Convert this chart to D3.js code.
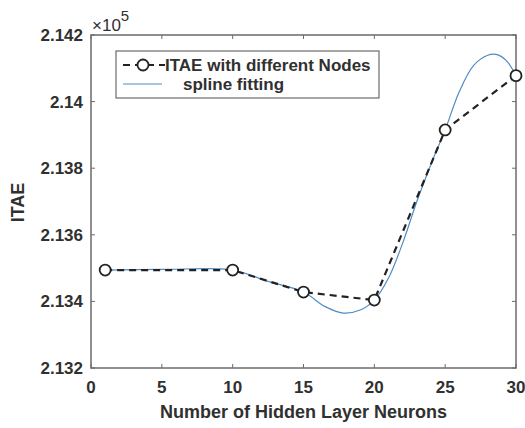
<!DOCTYPE html>
<html>
<head>
<meta charset="utf-8">
<script src="https://cdn.jsdelivr.net/npm/d3@7"></script>
<style>
body { margin: 0; background: #fff; }
text { font-family: "Liberation Sans", Arial, sans-serif; }
</style>
</head>
<body>
<script>
var nodes = [1, 10, 15, 20, 25, 30],
    itae = [2.13494, 2.13494, 2.13428, 2.13404, 2.13915, 2.14078];

// spline fitting curve
var splineX = [1, 5, 10, 12.5, 15, 16.5, 17.8, 19, 20, 21, 22, 23, 24, 25, 26, 27, 28, 28.6, 29.3, 30],
    splineY = [2.13494, 2.13496, 2.13494, 2.13460, 2.13428, 2.13385, 2.13365, 2.13374, 2.13404, 2.13470,
               2.13575, 2.13700, 2.13812, 2.13915, 2.14030, 2.14108, 2.14139, 2.14142, 2.14124, 2.14078];

var xTicks = [0, 5, 10, 15, 20, 25, 30],
    yTicks = [2.132, 2.134, 2.136, 2.138, 2.14, 2.142],
    yTickLabels = ["2.132", "2.134", "2.136", "2.138", "2.14", "2.142"];

var width = 525, height = 428,
    pLeft = 91, pRight = 516, pTop = 35, pBottom = 368;

var svg = d3.select("body").append("svg")
    .attr("width", width)
    .attr("height", height);

var x = d3.scaleLinear().domain([0, 30]).range([pLeft, pRight]);
var y = d3.scaleLinear().domain([2.132, 2.142]).range([pBottom, pTop]);

var axisColor = "#6b6b6b", textColor = "#303030";

// box
svg.append("rect")
    .attr("x", pLeft).attr("y", pTop)
    .attr("width", pRight - pLeft).attr("height", pBottom - pTop)
    .attr("fill", "none").attr("stroke", axisColor).attr("stroke-width", 1.5);

// inward ticks on all four sides
var tickG = svg.append("g").attr("stroke", axisColor).attr("stroke-width", 1);
xTicks.forEach(function(t) {
  tickG.append("line").attr("x1", x(t)).attr("x2", x(t)).attr("y1", pBottom).attr("y2", pBottom - 4);
  tickG.append("line").attr("x1", x(t)).attr("x2", x(t)).attr("y1", pTop).attr("y2", pTop + 4);
});
yTicks.forEach(function(t) {
  tickG.append("line").attr("x1", pLeft).attr("x2", pLeft + 4).attr("y1", y(t)).attr("y2", y(t));
  tickG.append("line").attr("x1", pRight).attr("x2", pRight - 4).attr("y1", y(t)).attr("y2", y(t));
});

svg.selectAll(".xl").data(xTicks).enter().append("text")
    .attr("x", function(d) { return x(d); })
    .attr("y", 393)
    .attr("text-anchor", "middle")
    .attr("font-size", 17).attr("font-weight", "bold").attr("fill", textColor)
    .text(function(d) { return d; });

svg.selectAll(".yl").data(yTicks).enter().append("text")
    .attr("x", 83)
    .attr("y", function(d) { return y(d) + 6; })
    .attr("text-anchor", "end")
    .attr("font-size", 17).attr("font-weight", "bold").attr("fill", textColor)
    .text(function(d, i) { return yTickLabels[i]; });

// exponent
var ex = svg.append("text").attr("x", 92).attr("y", 31)
    .attr("font-size", 17).attr("fill", textColor);
ex.append("tspan").text("×10");
ex.append("tspan").attr("dy", -10).attr("font-size", 15).text("5");

// axis labels
svg.append("text")
    .attr("x", (pLeft + pRight) / 2).attr("y", 418)
    .attr("text-anchor", "middle")
    .attr("font-size", 18).attr("font-weight", "bold").attr("fill", textColor)
    .text("Number of Hidden Layer Neurons");

svg.append("text")
    .attr("transform", "translate(24," + ((pTop + pBottom) / 2 + 1) + ") rotate(-90)")
    .attr("text-anchor", "middle")
    .attr("font-size", 18).attr("font-weight", "bold").attr("fill", textColor)
    .text("ITAE");

// spline line
var spline = d3.zip(splineX, splineY);
svg.append("path")
    .datum(spline)
    .attr("fill", "none")
    .attr("stroke", "#4f8cc4")
    .attr("stroke-width", 1.2)
    .attr("d", d3.line()
        .x(function(d) { return x(d[0]); })
        .y(function(d) { return y(d[1]); })
        .curve(d3.curveCatmullRom.alpha(0.5)));

// dashed data line
var pts = d3.zip(nodes, itae);
svg.append("path")
    .datum(pts)
    .attr("fill", "none")
    .attr("stroke", "#222")
    .attr("stroke-width", 2.2)
    .attr("stroke-dasharray", "7,5")
    .attr("d", d3.line()
        .x(function(d) { return x(d[0]); })
        .y(function(d) { return y(d[1]); }));

svg.selectAll(".pt").data(pts).enter().append("circle")
    .attr("cx", function(d) { return x(d[0]); })
    .attr("cy", function(d) { return y(d[1]); })
    .attr("r", 5.5)
    .attr("fill", "#fff")
    .attr("stroke", "#222")
    .attr("stroke-width", 1.8);

// legend
var lg = svg.append("g");
lg.append("rect")
    .attr("x", 116).attr("y", 51).attr("width", 263).attr("height", 47)
    .attr("fill", "#fff").attr("stroke", axisColor).attr("stroke-width", 1.2);
lg.append("line")
    .attr("x1", 122).attr("x2", 165).attr("y1", 65).attr("y2", 65)
    .attr("stroke", "#222").attr("stroke-width", 2.2).attr("stroke-dasharray", "7,5")
    .attr("stroke-dashoffset", -1);
lg.append("circle")
    .attr("cx", 143).attr("cy", 65).attr("r", 5.5)
    .attr("fill", "#fff").attr("stroke", "#222").attr("stroke-width", 1.8);
lg.append("text")
    .attr("x", 165).attr("y", 71)
    .attr("font-size", 17).attr("font-weight", "bold").attr("fill", textColor)
    .text("ITAE with different Nodes");
lg.append("line")
    .attr("x1", 123).attr("x2", 162).attr("y1", 84).attr("y2", 84)
    .attr("stroke", "#4f8cc4").attr("stroke-width", 1.2);
lg.append("text")
    .attr("x", 183).attr("y", 90)
    .attr("font-size", 17).attr("font-weight", "bold").attr("fill", textColor)
    .text("spline fitting");
</script>
</body>
</html>
